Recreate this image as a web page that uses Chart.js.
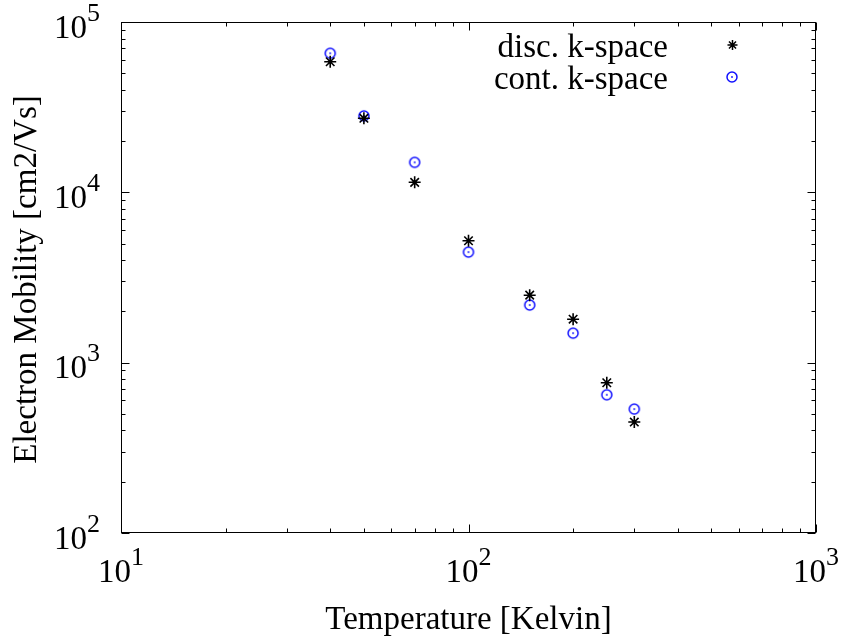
<!DOCTYPE html>
<html>
<head>
<meta charset="utf-8">
<script src="https://cdn.jsdelivr.net/npm/chart.js@4.4.1/dist/chart.umd.min.js"></script>
<style>
html,body{margin:0;padding:0;background:#fff;}
#wrap{width:842px;height:642px;}
</style>
</head>
<body>
<div id="wrap"><canvas id="c" width="842" height="642"></canvas></div>
<script>
// ---- data ----
const temperatures = [40, 50, 70, 100, 150, 200, 250, 300];
const discMobility = [58400, 27200, 11450, 5200, 2490, 1800, 762, 448];
const contMobility = [65500, 28100, 15000, 4460, 2180, 1490, 648, 534];
const seriesLabels = ['disc. k-space', 'cont. k-space'];
const xTickValues = [10, 100, 1000];
const xTickExponents = ['1', '2', '3'];
const yTickValues = [100, 1000, 10000, 100000];
const yTickExponents = ['2', '3', '4', '5'];
const xTitle = 'Temperature [Kelvin]';
const yTitle = 'Electron Mobility [cm2/Vs]';

const FONT = '"Liberation Serif", "Times New Roman", serif';
const BLUE = '#1010ff';

// circle-with-dot marker
function makeCircleDot(){
  const cv = document.createElement('canvas');
  cv.width = 14; cv.height = 14;
  const g = cv.getContext('2d');
  g.strokeStyle = BLUE; g.lineWidth = 1.5;
  g.beginPath(); g.arc(7, 7, 5, 0, Math.PI*2); g.stroke();
  g.fillStyle = BLUE;
  g.beginPath(); g.arc(7, 7, 0.9, 0, Math.PI*2); g.fill();
  return cv;
}
const circleDot = makeCircleDot();

function drawPow(ctx, exp, x, y, align){
  ctx.save();
  ctx.fillStyle = '#000';
  ctx.textBaseline = 'alphabetic';
  ctx.textAlign = 'left';
  ctx.font = '33px ' + FONT;
  const wb = ctx.measureText('10').width;
  ctx.font = '26px ' + FONT;
  const we = ctx.measureText(exp).width;
  const total = wb + we;
  let x0 = align === 'right' ? x - total : x - total/2;
  ctx.font = '33px ' + FONT;
  ctx.fillText('10', x0, y);
  ctx.font = '26px ' + FONT;
  ctx.fillText(exp, x0 + wb, y - 17);
  ctx.restore();
}

const framePlugin = {
  id: 'framePlugin',
  afterDraw(chart){
    const ctx = chart.ctx;
    const a = chart.chartArea;
    const xs = chart.scales.x, ys = chart.scales.y;
    ctx.save();
    ctx.strokeStyle = '#000';
    ctx.lineWidth = 1;
    const L = Math.round(a.left)+0.5, R = Math.round(a.right)-0.5, T = Math.round(a.top)+0.5, B = Math.round(a.bottom)-0.5;
    ctx.strokeRect(L, T, R-L, B-T);
    // ticks
    ctx.beginPath();
    for (let d = 1; d <= 3; d++){
      for (let m = 1; m <= 9; m++){
        const v = Math.pow(10, d) * m;
        if (v > 1000) break;
        const px = Math.round(xs.getPixelForValue(v)) + 0.5;
        const len = m === 1 ? 8 : 4;
        ctx.moveTo(px, B); ctx.lineTo(px, B - len);
        ctx.moveTo(px, T); ctx.lineTo(px, T + len);
      }
    }
    for (let d = 2; d <= 5; d++){
      for (let m = 1; m <= 9; m++){
        const v = Math.pow(10, d) * m;
        if (v > 100000) break;
        const py = Math.round(ys.getPixelForValue(v)) + 0.5;
        const len = m === 1 ? 8 : 4;
        ctx.moveTo(L, py); ctx.lineTo(L + len, py);
        ctx.moveTo(R, py); ctx.lineTo(R - len, py);
      }
    }
    ctx.stroke();
    // tick labels
    xTickValues.forEach((v, i) => drawPow(ctx, xTickExponents[i], xs.getPixelForValue(v), a.bottom + 49, 'center'));
    yTickValues.forEach((v, i) => drawPow(ctx, yTickExponents[i], 100, ys.getPixelForValue(v) + 15.5, 'right'));
    // axis titles
    ctx.fillStyle = '#000';
    ctx.font = '33px ' + FONT;
    ctx.textAlign = 'center';
    ctx.textBaseline = 'alphabetic';
    ctx.fillText(xTitle, (a.left + a.right)/2, 629);
    ctx.save();
    ctx.translate(36, (a.top + a.bottom)/2 + 2);
    ctx.rotate(-Math.PI/2);
    ctx.fillText(yTitle, 0, 0);
    ctx.restore();
    // legend
    ctx.textAlign = 'right';
    ctx.fillText(chart.data.datasets[0].label, 668, 57);
    ctx.fillText(chart.data.datasets[1].label, 668, 89);
    // legend symbols
    ctx.strokeStyle = '#000'; ctx.lineWidth = 1.5;
    const sx = 732.5, sy = 45, r = 5;
    ctx.beginPath();
    ctx.moveTo(sx - r, sy); ctx.lineTo(sx + r, sy);
    ctx.moveTo(sx, sy - r); ctx.lineTo(sx, sy + r);
    const q = r * Math.SQRT1_2;
    ctx.moveTo(sx - q, sy - q); ctx.lineTo(sx + q, sy + q);
    ctx.moveTo(sx - q, sy + q); ctx.lineTo(sx + q, sy - q);
    ctx.stroke();
    ctx.drawImage(circleDot, 732 - 7, 77 - 7);
    ctx.restore();
  }
};

new Chart(document.getElementById('c'), {
  type: 'scatter',
  data: {
    datasets: [
      {
        label: seriesLabels[0],
        data: temperatures.map((t, i) => ({x: t, y: discMobility[i]})),
        pointStyle: 'star',
        pointRadius: 6,
        pointBorderWidth: 1.6,
        borderColor: '#000',
        backgroundColor: '#000',
        pointHoverRadius: 6
      },
      {
        label: seriesLabels[1],
        data: temperatures.map((t, i) => ({x: t, y: contMobility[i]})),
        pointStyle: circleDot,
        pointRadius: 6,
        borderColor: BLUE,
        backgroundColor: BLUE
      }
    ]
  },
  options: {
    responsive: false,
    animation: false,
    devicePixelRatio: 1,
    layout: { padding: { left: 121, top: 22, right: 26, bottom: 109 } },
    plugins: { legend: { display: false }, tooltip: { enabled: false } },
    scales: {
      x: { type: 'logarithmic', min: 10, max: 1000, display: false },
      y: { type: 'logarithmic', min: 100, max: 100000, display: false }
    }
  },
  plugins: [framePlugin]
});
</script>
</body>
</html>
